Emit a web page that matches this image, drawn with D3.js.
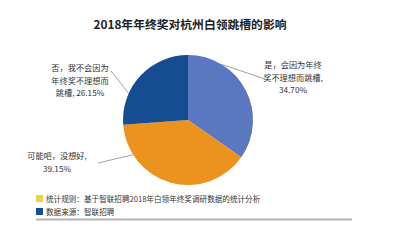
<!DOCTYPE html>
<html><head><meta charset="utf-8">
<script src="https://cdn.jsdelivr.net/npm/d3@7"></script>
<style>body{margin:0;background:#fff}svg{display:block}</style>
</head><body>
<script>
const categories = ["是，会因为年终奖不理想而跳槽", "可能吧，没想好", "否，我不会因为年终奖不理想而跳槽"];
const values = [34.70, 39.15, 26.15];
const colors = ["#5a77bf", "#eb921f", "#154d92"];
const labelLines = [
  ["是，会因为年终", "奖不理想而跳槽,", "34.70%"],
  ["可能吧，没想好,", "39.15%"],
  ["否，我不会因为", "年终奖不理想而", "跳槽, 26.15%"]
];
const title = "2018年年终奖对杭州白领跳槽的影响";
const notes = ["统计规则：基于智联招聘2018年白领年终奖调研数据的统计分析", "数据来源：智联招聘"];
const noteColors = ["#f3d04a", "#154d92"];

const W = 400, H = 244;
const svg = d3.select("body").append("svg").attr("width", W).attr("height", H);
const font = "'Noto Sans CJK SC', sans-serif";

svg.append("text").attr("x", 190).attr("y", 29).attr("text-anchor", "middle")
  .attr("font-family", font).attr("font-weight", "bold").attr("font-size", 11.8)
  .attr("fill", "#222").text(title);

const cx = 188, cy = 120, r = 65;
const pie = d3.pie().sort(null).startAngle(0).endAngle(2 * Math.PI);
const arcs = pie(values);
const arc = d3.arc().innerRadius(0).outerRadius(r);
const g = svg.append("g").attr("transform", `translate(${cx},${cy})`);
g.selectAll("path").data(arcs).join("path").attr("d", arc).attr("fill", (d, i) => colors[i]);

const labelPos = [
  {x: 293, y: 68, lx: 265, ly: 79},
  {x: 57, y: 159, lx: 98, ly: 163},
  {x: 80, y: 71, lx: 111, ly: 71}
];
arcs.forEach((d, i) => {
  const p = labelPos[i];
  let a;
  if (i === 0) a = d.startAngle + (d.endAngle - d.startAngle) * 0.25;
  else if (i === 1) a = d.startAngle + (d.endAngle - d.startAngle) * 0.8;
  else a = d.startAngle + (d.endAngle - d.startAngle) * 0.3;
  const ex = cx + Math.sin(a) * r, ey = cy - Math.cos(a) * r;
  svg.append("line").attr("x1", p.lx).attr("y1", p.ly).attr("x2", ex).attr("y2", ey)
    .attr("stroke", "#888").attr("stroke-width", 0.8);
  const t = svg.append("text").attr("text-anchor", "middle").attr("font-family", font)
    .attr("font-size", 8.2).attr("fill", "#333");
  labelLines[i].forEach((s, k) => {
    t.append("tspan").attr("x", p.x).attr("y", p.y + k * 12.5).text(s);
  });
});

notes.forEach((s, i) => {
  const y = 199 + i * 13;
  svg.append("rect").attr("x", 36).attr("y", y - 4).attr("width", 7).attr("height", 7).attr("fill", noteColors[i]);
  svg.append("text").attr("x", 46).attr("y", y + 3).attr("font-family", font).attr("font-size", 7.6)
    .attr("fill", "#333").text(s);
});
svg.append("line").attr("x1", 36).attr("x2", 352).attr("y1", 219.5).attr("y2", 219.5)
  .attr("stroke", "#b4b4b4").attr("stroke-width", 1.8);
</script>
</body></html>
